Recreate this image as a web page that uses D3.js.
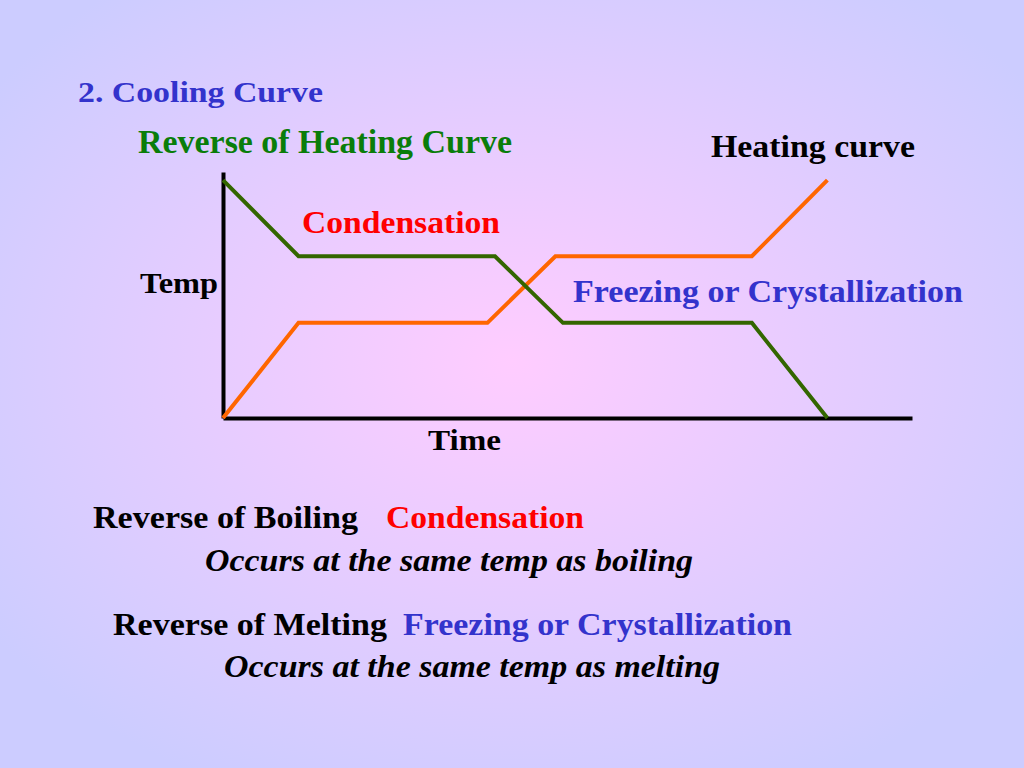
<!DOCTYPE html>
<html>
<head>
<meta charset="utf-8">
<script src="https://cdn.jsdelivr.net/npm/d3@7"></script>
<style>
  html, body { margin: 0; padding: 0; overflow: hidden; }
</style>
</head>
<body>
<div id="chart"></div>
<script>
// Data (time in arbitrary units, temp in arbitrary units)
const coolingTime = [0, 1, 3.6, 4.5, 7, 8]
const coolingTemp = [100, 68, 68, 40, 40, 0]
const heatingTime = [0, 1, 3.5, 4.4, 7, 8]
const heatingTemp = [0, 40, 40, 68, 68, 100]

const WIDTH = 1024
const HEIGHT = 768
const FONT = "Liberation Serif"

const svg = d3.select("#chart").append("svg")
    .attr("width", WIDTH)
    .attr("height", HEIGHT)

// Background
const defs = svg.append("defs")
const grad = defs.append("radialGradient")
    .attr("id", "bg")
    .attr("cx", "50%").attr("cy", "47%")
    .attr("r", "62%")
grad.append("stop").attr("offset", "0%").attr("stop-color", "#ffccff")
grad.append("stop").attr("offset", "100%").attr("stop-color", "#ccccff")

svg.append("rect")
    .attr("width", WIDTH)
    .attr("height", HEIGHT)
    .attr("fill", "url(#bg)")

// Scales
const x = d3.scaleLinear()
    .domain([0, 9.12])
    .range([223, 912])

const y = d3.scaleLinear()
    .domain([0, 103.4])
    .range([418, 172])

// Axes (no ticks, just the lines)
svg.append("g")
    .attr("transform", `translate(0, ${y(0)})`)
    .call(d3.axisBottom(x).tickValues([]).tickSizeOuter(0))
    .select(".domain")
    .attr("stroke", "#000")
    .attr("stroke-width", 4)

svg.append("g")
    .attr("transform", `translate(${x(0)}, 0)`)
    .call(d3.axisLeft(y).tickValues([]).tickSizeOuter(0))
    .select(".domain")
    .attr("stroke", "#000")
    .attr("stroke-width", 4)

// Curves
const line = d3.line()
    .x(d => x(d[0]))
    .y(d => y(d[1]))

svg.append("path")
    .datum(d3.zip(heatingTime, heatingTemp))
    .attr("d", line)
    .attr("fill", "none")
    .attr("stroke", "#ff6600")
    .attr("stroke-width", 4)

svg.append("path")
    .datum(d3.zip(coolingTime, coolingTemp))
    .attr("d", line)
    .attr("fill", "none")
    .attr("stroke", "#336600")
    .attr("stroke-width", 4)

// Labels
function label(txt, px, py, size, color, width, italic) {
    svg.append("text")
        .attr("x", px)
        .attr("y", py)
        .attr("font-family", FONT)
        .attr("font-weight", "bold")
        .attr("font-size", size + "px")
        .attr("font-style", italic ? "italic" : "normal")
        .attr("fill", color)
        .attr("textLength", width)
        .attr("lengthAdjust", "spacingAndGlyphs")
        .text(txt)
}

label("2. Cooling Curve", 78, 102, 30, "#3333cc", 245)
label("Reverse of Heating Curve", 138, 153, 33, "#0a7d0a", 374)
label("Heating curve", 711, 157, 32, "#000", 204)
label("Condensation", 302, 233, 32, "#ff0000", 198)
label("Temp", 140, 293, 30, "#000", 78)
label("Freezing or Crystallization", 573, 302, 32, "#3333cc", 390)
label("Time", 428, 450, 30, "#000", 73)

label("Reverse of Boiling", 93, 528, 32, "#000", 265)
label("Condensation", 386, 528, 32, "#ff0000", 198)
label("Occurs at the same temp as boiling", 205, 571, 32, "#000", 488, true)
label("Reverse of Melting", 113, 635, 32, "#000", 274)
label("Freezing or Crystallization", 403, 635, 32, "#3333cc", 389)
label("Occurs at the same temp as melting", 224, 677, 32, "#000", 496, true)
</script>
</body>
</html>
